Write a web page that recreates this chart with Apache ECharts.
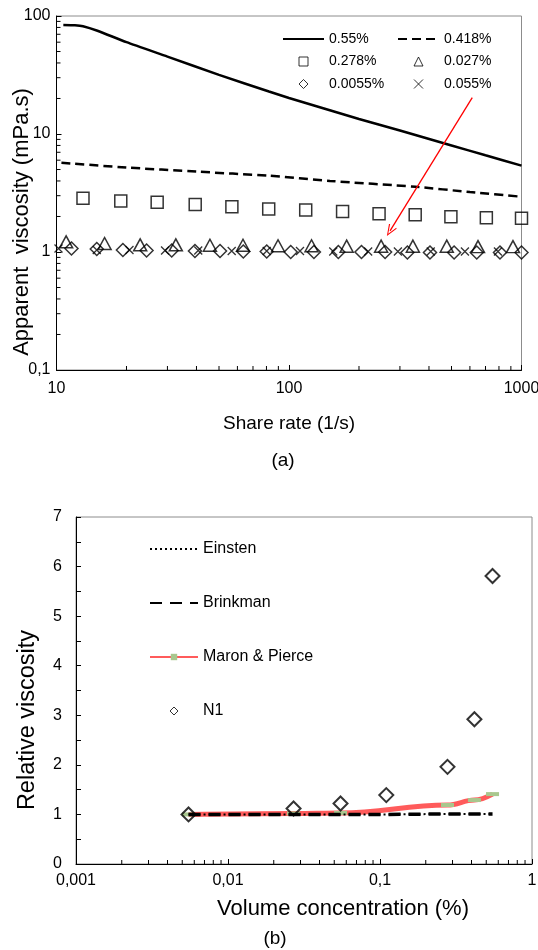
<!DOCTYPE html>
<html><head><meta charset="utf-8">
<script src="https://cdn.jsdelivr.net/npm/echarts@6/dist/echarts.min.js"></script>
<style>html,body{margin:0;padding:0;background:#fff}#c{width:538px;height:950px}</style>
</head><body><div id="c"></div>
<script>
// ===== Chart (a): apparent viscosity vs share rate =====
const shearTickLabels = ['10', '100', '1000'];
const viscTickLabels = ['0,1', '1', '10', '100'];
const shearMinorTicks = [20, 30, 40, 50, 60, 70, 80, 90, 200, 300, 400, 500, 600, 700, 800, 900];
const viscMinorTicks = [0.2, 0.3, 0.4, 0.5, 0.6, 0.7, 0.8, 0.9, 2, 3, 4, 5, 6, 7, 8, 9, 20, 30, 40, 50, 60, 70, 80, 90];

const c055_x = [10.7, 12, 13, 15, 20, 30, 50, 82, 100, 200, 300, 500, 700, 1000];
const c055_y = [84, 83.5, 82, 75, 60, 45.3, 31.7, 22.9, 20.2, 13.4, 10.7, 8.0, 6.6, 5.4];

const c0418_x = [10.5, 20, 40, 82, 150, 350, 600, 1000];
const c0418_y = [5.7, 5.2, 4.8, 4.43, 4.0, 3.57, 3.22, 2.94];

const c0278_x = [13.0, 18.9, 27.1, 39.5, 56.8, 81.8, 118, 170, 244, 349, 497, 706, 1000];
const c0278_y = [2.85, 2.70, 2.64, 2.53, 2.42, 2.31, 2.27, 2.20, 2.11, 2.07, 1.99, 1.95, 1.93];

const c0027_x = [11.0, 16.1, 22.9, 32.6, 45.7, 63.4, 89.7, 125, 177, 249, 341, 477, 650, 919];
const c0027_y = [1.22, 1.18, 1.15, 1.15, 1.14, 1.14, 1.13, 1.13, 1.12, 1.12, 1.12, 1.12, 1.11, 1.11];

const c00055_x = [11.6, 14.9, 19.3, 24.4, 31.3, 39.4, 50.5, 63.6, 80.2, 101.7, 128, 163, 205, 259, 323, 404, 513, 642, 808, 1000];
const c00055_y = [1.07, 1.06, 1.04, 1.03, 1.03, 1.02, 1.02, 1.01, 1.01, 1.0, 1.0, 1.0, 1.0, 1.0, 0.99, 0.99, 0.99, 0.99, 0.99, 0.99];

const c0055_x = [10.2, 14.9, 20.6, 29.3, 40.7, 56.7, 80.2, 111.5, 155, 219, 294, 407, 571, 792];
const c0055_y = [1.07, 1.04, 1.04, 1.03, 1.03, 1.02, 1.02, 1.02, 1.01, 1.01, 1.01, 1.01, 1.01, 1.01];

const arrowFrom = [614, 20.3];
const arrowTo = [272, 1.51];

// ===== Chart (b): relative viscosity vs volume concentration =====
const concTickLabels = ['0,001', '0,01', '0,1', '1'];
const concMinorTicks = [0.002, 0.003, 0.004, 0.005, 0.006, 0.007, 0.008, 0.009, 0.02, 0.03, 0.04, 0.05, 0.06, 0.07, 0.08, 0.09, 0.2, 0.3, 0.4, 0.5, 0.6, 0.7, 0.8, 0.9];

const einstein_x = [0.0055, 0.027, 0.055, 0.11, 0.278, 0.418, 0.55];
const einstein_y = [1.0, 1.0, 1.0, 1.0, 1.01, 1.01, 1.01];
const brinkman_x = [0.0055, 0.027, 0.055, 0.11, 0.278, 0.418, 0.55];
const brinkman_y = [1.0, 1.0, 1.0, 1.0, 1.01, 1.01, 1.01];
const maron_x = [0.0055, 0.027, 0.055, 0.278, 0.418, 0.55];
const maron_y = [1.0, 1.02, 1.03, 1.19, 1.29, 1.41];
const n1_x = [0.0055, 0.027, 0.055, 0.11, 0.278, 0.418, 0.55];
const n1_y = [1.0, 1.12, 1.22, 1.39, 1.96, 2.92, 5.81];

const FONT = '"Liberation Sans", Arial, sans-serif';
const zip = (xs, ys) => xs.map((x, i) => [x, ys[i]]);

function tickSeries(xi, yi, data, dir) {
  return {
    type: 'custom', xAxisIndex: xi, yAxisIndex: yi, silent: true, clip: false, z: 6,
    data: data,
    renderItem: function (params, api) {
      const p = api.coord([api.value(0), api.value(1)]);
      const shape = dir === 'x'
        ? { x1: p[0], y1: p[1], x2: p[0], y2: p[1] - 4 }
        : { x1: p[0], y1: p[1], x2: p[0] + 4, y2: p[1] };
      return { type: 'line', shape: shape, style: { stroke: '#000', lineWidth: 1 } };
    }
  };
}

function logAxis(gridIndex, min, max, labels, margin) {
  return {
    type: 'log', logBase: 10, gridIndex: gridIndex, min: min, max: max,
    axisLine: { show: true, lineStyle: { color: '#000', width: 1 } },
    axisTick: { show: true, inside: true, length: 5, lineStyle: { color: '#000' } },
    minorTick: { show: false }, splitLine: { show: false }, minorSplitLine: { show: false },
    axisLabel: {
      color: '#000', fontSize: 16, fontFamily: FONT, margin: margin,
      showMinLabel: true, showMaxLabel: true,
      formatter: function (v) { return labels[Math.round(Math.log10(v) - Math.log10(min))]; }
    }
  };
}

const hollow = { color: 'rgba(0,0,0,0)', borderColor: '#000', borderWidth: 1.5 };
const hideSym = { opacity: 0 };
const ICON_SQUARE = 'path://M0,0L10,0L10,10L0,10Z';
const ICON_TRIANGLE = 'path://M5,0L10,10L0,10Z';
const ICON_DIAMOND = 'path://M5,0L10,5L5,10L0,5Z';

const option = {
  animation: false,
  backgroundColor: '#fff',
  grid: [
    { left: 56.5, top: 16, width: 465, height: 354, show: true, borderColor: '#8c8c8c', borderWidth: 1, outerBoundsMode: 'none' },
    { left: 76, top: 517, width: 456, height: 347, show: true, borderColor: '#8c8c8c', borderWidth: 1, outerBoundsMode: 'none' }
  ],
  xAxis: [
    logAxis(0, 10, 1000, shearTickLabels, 11),
    logAxis(1, 0.001, 1, concTickLabels, 9)
  ],
  yAxis: [
    logAxis(0, 0.1, 100, viscTickLabels, 6),
    {
      type: 'value', gridIndex: 1, min: 0, max: 7, interval: 1,
      axisLine: { show: true, lineStyle: { color: '#000', width: 1 } },
      axisTick: { show: true, inside: true, length: 5, lineStyle: { color: '#000' } },
      minorTick: { show: true, splitNumber: 2, length: 5, lineStyle: { color: '#000' } },
      splitLine: { show: false }, minorSplitLine: { show: false },
      axisLabel: { color: '#000', fontSize: 16, fontFamily: FONT, margin: 14 }
    }
  ],
  legend: [
    { orient: 'vertical', left: 277, top: 27, itemWidth: 41, itemHeight: 9, itemGap: 8.5, selectedMode: false,
      symbolKeepAspect: true,
      data: [{ name: '0.55%', itemStyle: hideSym }, { name: '0.278%', icon: ICON_SQUARE }, { name: '0.0055%', icon: ICON_DIAMOND }],
      itemStyle: { borderWidth: 1 },
      textStyle: { fontSize: 14, lineHeight: 14, color: '#000', fontFamily: FONT } },
    { orient: 'vertical', left: 392, top: 27, itemWidth: 41, itemHeight: 9, itemGap: 8.5, selectedMode: false,
      symbolKeepAspect: true,
      data: [{ name: '0.418%', itemStyle: hideSym }, { name: '0.027%', icon: ICON_TRIANGLE }, '0.055%'],
      itemStyle: { borderWidth: 1 },
      textStyle: { fontSize: 14, lineHeight: 14, color: '#000', fontFamily: FONT } },
    { orient: 'vertical', left: 144, top: 536, itemWidth: 48, itemHeight: 8, itemGap: 38, selectedMode: false,
      symbolKeepAspect: true,
      data: [{ name: 'Einsten', itemStyle: hideSym }, { name: 'Brinkman', itemStyle: hideSym }, 'Maron & Pierce', { name: 'N1', icon: ICON_DIAMOND }],
      itemStyle: { borderWidth: 1 },
      textStyle: { fontSize: 16, lineHeight: 16, color: '#000', fontFamily: FONT } }
  ],
  series: [
    { name: '0.55%', type: 'line', xAxisIndex: 0, yAxisIndex: 0, data: zip(c055_x, c055_y),
      symbol: 'none', smooth: 0.2, lineStyle: { color: '#000', width: 2.5 }, itemStyle: { color: '#000' }, z: 3 },
    { name: '0.418%', type: 'line', xAxisIndex: 0, yAxisIndex: 0, data: zip(c0418_x, c0418_y),
      symbol: 'none', smooth: 0.2, lineStyle: { color: '#000', width: 2.5, type: [9, 5] }, itemStyle: { color: '#000' }, z: 3 },
    { name: '0.278%', type: 'scatter', xAxisIndex: 0, yAxisIndex: 0, data: zip(c0278_x, c0278_y),
      symbol: 'rect', symbolSize: 12, itemStyle: hollow, z: 4,
      markLine: {
        silent: true, animation: false,
        symbol: ['none', 'path://M0,0L6,12L4.8,12.8L0,2.8L-4.8,12.8L-6,12Z'], symbolSize: [9, 12],
        label: { show: false }, emphasis: { disabled: true },
        lineStyle: { color: '#ff0000', width: 1.3, type: 'solid' },
        data: [[{ coord: arrowFrom }, { coord: arrowTo }]]
      } },
    { name: '0.027%', type: 'scatter', xAxisIndex: 0, yAxisIndex: 0, data: zip(c0027_x, c0027_y),
      symbol: 'triangle', symbolSize: [13, 12], itemStyle: hollow, z: 4 },
    { name: '0.0055%', type: 'scatter', xAxisIndex: 0, yAxisIndex: 0, data: zip(c00055_x, c00055_y),
      symbol: 'diamond', symbolSize: 13, itemStyle: hollow, z: 4 },
    { name: '0.055%', type: 'scatter', xAxisIndex: 0, yAxisIndex: 0, data: zip(c0055_x, c0055_y),
      symbol: 'path://M0,0L10,10M10,0L0,10', symbolSize: 8, itemStyle: { color: 'rgba(0,0,0,0)', borderColor: '#000', borderWidth: 1.3 }, z: 4 },
    tickSeries(0, 0, shearMinorTicks.map(v => [v, 0.1]), 'x'),
    tickSeries(0, 0, viscMinorTicks.map(v => [10, v]), 'y'),

    { name: 'Maron & Pierce', type: 'line', xAxisIndex: 1, yAxisIndex: 1, data: zip(maron_x, maron_y),
      smooth: 0.4, smoothMonotone: 'x', symbol: 'rect', symbolSize: [13, 4], showSymbol: true,
      lineStyle: { color: '#ff5b5b', width: 5 }, itemStyle: { color: '#a9c78e' }, z: 2 },
    { name: 'Brinkman', type: 'line', xAxisIndex: 1, yAxisIndex: 1, data: zip(brinkman_x, brinkman_y),
      symbol: 'none', lineStyle: { color: '#000', width: 3.5, type: [12, 8] }, itemStyle: { color: '#000' }, z: 3 },
    { name: 'Einsten', type: 'line', xAxisIndex: 1, yAxisIndex: 1, data: zip(einstein_x, einstein_y),
      symbol: 'none', lineStyle: { color: '#000', width: 2, type: [2, 3] }, itemStyle: { color: '#000' }, z: 3 },
    { name: 'N1', type: 'scatter', xAxisIndex: 1, yAxisIndex: 1, data: zip(n1_x, n1_y),
      symbol: 'diamond', symbolSize: 14, itemStyle: { color: 'rgba(0,0,0,0)', borderColor: '#000', borderWidth: 2 }, z: 4 },
    tickSeries(1, 1, concMinorTicks.map(v => [v, 0]), 'x')
  ],
  graphic: [
    { type: 'text', x: 22, y: 222, rotation: Math.PI / 2,
      style: { text: 'Apparent  viscosity (mPa.s)', font: '22px ' + FONT, fill: '#000', textAlign: 'center', textVerticalAlign: 'middle' } },
    { type: 'text', x: 289, y: 424,
      style: { text: 'Share rate (1/s)', font: '19px ' + FONT, fill: '#000', textAlign: 'center', textVerticalAlign: 'middle' } },
    { type: 'text', x: 283, y: 461,
      style: { text: '(a)', font: '19px ' + FONT, fill: '#000', textAlign: 'center', textVerticalAlign: 'middle' } },
    { type: 'text', x: 27.5, y: 720, rotation: Math.PI / 2,
      style: { text: 'Relative viscosity', font: '23.5px ' + FONT, fill: '#000', textAlign: 'center', textVerticalAlign: 'middle' } },
    { type: 'text', x: 343, y: 909,
      style: { text: 'Volume concentration (%)', font: '22px ' + FONT, fill: '#000', textAlign: 'center', textVerticalAlign: 'middle' } },
    { type: 'text', x: 275, y: 939,
      style: { text: '(b)', font: '19px ' + FONT, fill: '#000', textAlign: 'center', textVerticalAlign: 'middle' } }
  ]
};

const chart = echarts.init(document.getElementById('c'), null, { renderer: 'canvas' });
chart.setOption(option);
</script>
</body></html>
